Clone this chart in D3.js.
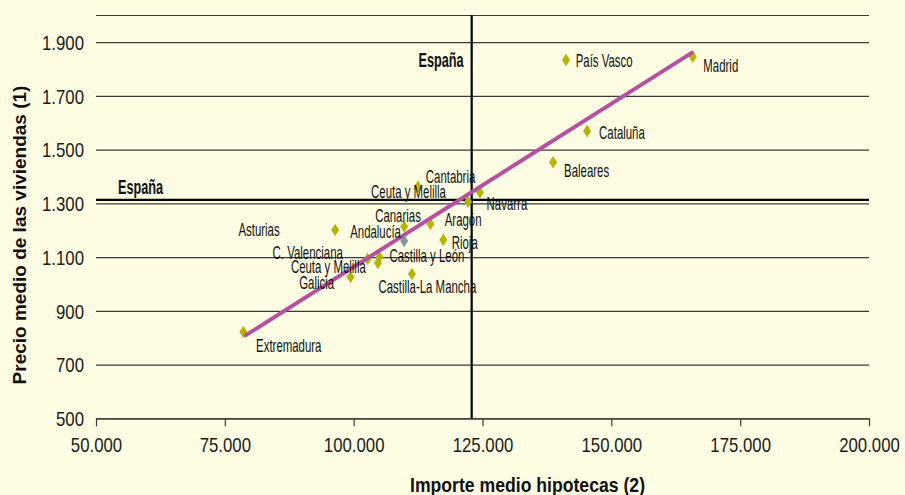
<!DOCTYPE html>
<html>
<head>
<meta charset="utf-8">
<script src="https://cdn.jsdelivr.net/npm/d3@7"></script>
<style>
  html, body { margin: 0; padding: 0; background: #FEFDE4; }
  svg { display: block; }
  .narrow { font-family: "Liberation Sans", Arial, sans-serif; }
</style>
</head>
<body>
<svg id="chart" width="905" height="495"></svg>
<script>
// ---- Data ----
const regions = ["Madrid", "País Vasco", "Cataluña", "Baleares", "Cantabria", "Navarra",
  "Ceuta y Melilla", "Canarias", "Aragón", "Andalucía", "Rioja", "Castilla y León",
  "C. Valenciana", "Ceuta y Melilla", "Castilla-La Mancha", "Galicia", "Asturias", "Extremadura"];
const importeHipotecas = [165800, 141200, 145300, 138700, 112500, 124500,
  122200, 109800, 114900, 109800, 117400, 105000,
  102700, 104700, 111300, 99400, 96400, 78600];
const precioViviendas = [1846, 1834, 1569, 1453, 1362, 1341,
  1306, 1214, 1223, 1160, 1164, 1100,
  1093, 1078, 1037, 1026, 1201, 821];
const highlighted = ["Andalucía"];
const espanaImporte = 122900;
const espanaPrecio = 1313;
const trendImporte = [78800, 165900];
const trendPrecio = [806, 1864];
const xTicks = [50000, 75000, 100000, 125000, 150000, 175000, 200000];
const yTicks = [500, 700, 900, 1100, 1300, 1500, 1700, 1900];
const xTitle = "Importe medio hipotecas (2)";
const yTitle = "Precio medio de las viviendas (1)";
const refLabel = "España";

// ---- Layout (label offsets in px, relative to each point) ----
const labelOffsets = [[10.6, 15], [9.7, 7], [12, 8.3], [11, 14.4], [7.7, -4], [6.7, 17.7],
  [-97, -3.7], [-29, -4.8], [14.3, 2], [-54, -3], [8.4, 9.5], [10, 5],
  [-95, 0], [-87, 9.7], [-33.4, 19], [-51.4, 12.3], [-96.7, 5.7], [12.7, 19.7]];
const SQ = 0.84;      // horizontal squeeze of general text
const SQL = 0.635;    // horizontal squeeze of point labels

const svg = d3.select("#chart");
const x = d3.scaleLinear().domain([50000, 200000]).range([96, 869]);
const y = d3.scaleLinear().domain([500, 2000]).range([418.3, 15.3]);
const loc = d3.formatLocale({decimal: ",", thousands: ".", grouping: [3], currency: ["", ""]});
const fmt = loc.format(",d");
const gridColor = "#3a3a3a";

// top border line
svg.append("line")
  .attr("x1", x(50000)).attr("x2", x(200000))
  .attr("y1", Math.round(y(2000)) + 0.5).attr("y2", Math.round(y(2000)) + 0.5)
  .attr("stroke", gridColor).attr("stroke-width", 1.2);

// Y grid + labels
const yAxis = svg.append("g").attr("transform", `translate(${x(50000)},0)`)
  .call(d3.axisLeft(y).tickValues(yTicks).tickFormat(fmt).tickSizeInner(-(x(200000) - x(50000))).tickSizeOuter(0).tickPadding(12));
yAxis.select(".domain").remove();
yAxis.selectAll(".tick line").attr("stroke", gridColor).attr("stroke-width", 1.2);
yAxis.selectAll(".tick text")
  .attr("class", "narrow").attr("font-size", 20).attr("fill", "#1a1a1a")
  .attr("x", 0).attr("dy", "0.36em")
  .attr("transform", `translate(-12,0) scale(${SQ},1)`);

// X axis
const xAxis = svg.append("g").attr("transform", `translate(0,${y(500)})`)
  .call(d3.axisBottom(x).tickValues(xTicks).tickFormat(fmt).tickSizeInner(8).tickSizeOuter(0).tickPadding(10));
xAxis.select(".domain").attr("stroke", gridColor).attr("stroke-width", 1.2);
xAxis.selectAll(".tick line").attr("stroke", gridColor).attr("stroke-width", 1.2);
xAxis.selectAll(".tick text")
  .attr("class", "narrow").attr("font-size", 20).attr("fill", "#1a1a1a")
  .attr("y", 0).attr("dy", "0.78em")
  .attr("transform", `translate(0,18) scale(${SQ},1)`);

// España reference lines
svg.append("line")
  .attr("x1", x(50000)).attr("x2", x(200000))
  .attr("y1", y(espanaPrecio)).attr("y2", y(espanaPrecio))
  .attr("stroke", "#000").attr("stroke-width", 2.2);
svg.append("line")
  .attr("x1", x(espanaImporte)).attr("x2", x(espanaImporte))
  .attr("y1", y(2000)).attr("y2", y(500))
  .attr("stroke", "#000").attr("stroke-width", 2.2);

// condensed text helper
function ctext(g, txt, px, py, size, weight, anchor, sx) {
  return g.append("text")
    .attr("class", "narrow")
    .attr("transform", `translate(${px},${py}) scale(${sx},1)`)
    .attr("font-size", size).attr("font-weight", weight)
    .attr("text-anchor", anchor).attr("fill", "#111")
    .text(txt);
}

// España labels
ctext(svg, refLabel, x(50000) + 22, y(espanaPrecio) - 6, 20, "bold", "start", SQL);
ctext(svg, refLabel, x(espanaImporte) - 8, y(2000) + 52, 20, "bold", "end", SQL);

// data points (diamonds)
const pts = regions.map((r, i) => ({name: r, xv: importeHipotecas[i], yv: precioViviendas[i], off: labelOffsets[i]}));
const diamond = "M0,-6.3 L4,0 L0,6.3 L-4,0 Z";
svg.append("g").selectAll("path").data(pts).join("path")
  .attr("d", diamond)
  .attr("transform", d => `translate(${x(d.xv)},${y(d.yv)})`)
  .attr("fill", d => highlighted.includes(d.name) ? "#7D9C9A" : "#B5B508");

// trend line
svg.append("line")
  .attr("x1", x(trendImporte[0])).attr("y1", y(trendPrecio[0]))
  .attr("x2", x(trendImporte[1])).attr("y2", y(trendPrecio[1]))
  .attr("stroke", "#B4529F").attr("stroke-width", 4);

// labels
const lg = svg.append("g");
pts.forEach(d => {
  ctext(lg, d.name, x(d.xv) + d.off[0], y(d.yv) + d.off[1], 18, "normal", "start", SQL);
});

// axis titles
ctext(svg, xTitle, 527.5, 492, 21, "bold", "middle", SQ);
svg.append("text")
  .attr("transform", `translate(26,235) rotate(-90)`)
  .attr("font-family", "'Liberation Sans', Arial, sans-serif")
  .attr("font-size", 19).attr("font-weight", "bold")
  .attr("text-anchor", "middle").attr("fill", "#111")
  .text(yTitle);
</script>
</body>
</html>
